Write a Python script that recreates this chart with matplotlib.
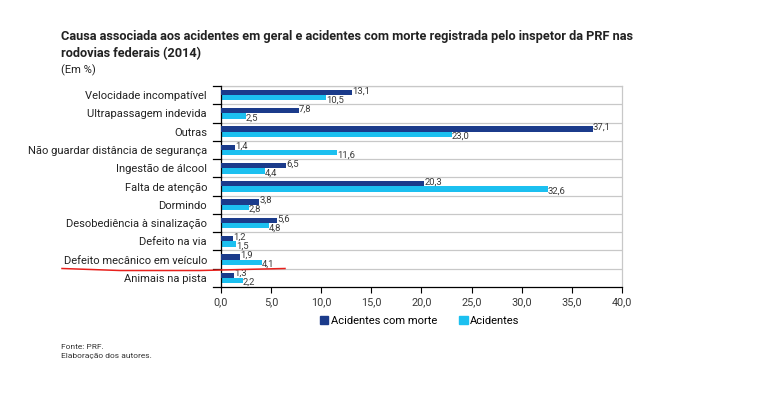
import matplotlib.pyplot as plt
import numpy as np
from matplotlib.lines import Line2D

causas = ["Velocidade incompatível", "Ultrapassagem indevida", "Outras",
          "Não guardar distância de segurança", "Ingestão de álcool",
          "Falta de atenção", "Dormindo", "Desobediência à sinalização",
          "Defeito na via", "Defeito mecânico em veículo", "Animais na pista"]
com_morte = [13.1, 7.8, 37.1, 1.4, 6.5, 20.3, 3.8, 5.6, 1.2, 1.9, 1.3]
acidentes = [10.5, 2.5, 23.0, 11.6, 4.4, 32.6, 2.8, 4.8, 1.5, 4.1, 2.2]
xticks = [0, 5, 10, 15, 20, 25, 30, 35, 40]

cor_escura = "#1b3b8b"
cor_clara = "#1cc0f0"
cor_texto = "#3a3a3a"

plt.rcParams["font.family"] = ["Roboto", "DejaVu Sans"]

fig = plt.figure(figsize=(7.77, 3.95), dpi=100)
ax = fig.add_axes([0.2844, 0.2734, 0.5161, 0.5089])

y = np.arange(len(causas))
h = 0.29
ax.barh(y - 0.145, com_morte, height=h, color=cor_escura, zorder=3)
ax.barh(y + 0.145, acidentes, height=h, color=cor_clara, zorder=2)

def fmt(v):
    return f"{v:.1f}".replace(".", ",")

for yi, v in zip(y, com_morte):
    ax.text(v, yi - 0.23, fmt(v), fontsize=6.8, color=cor_texto, va="center", ha="left", zorder=4)
for yi, v in zip(y, acidentes):
    ax.text(v, yi + 0.26, fmt(v), fontsize=6.8, color=cor_texto, va="center", ha="left", zorder=4)

ax.set_ylim(len(causas) - 0.5, -0.5)
ax.set_xlim(0, 40)
ax.set_xticks(xticks)
ax.set_xticklabels([fmt(t) for t in xticks], fontsize=7.8, color=cor_texto)
ax.set_yticks(y)
ax.set_yticklabels(causas, fontsize=8, color="#222222")
ax.tick_params(axis="y", length=0, pad=10)
ax.tick_params(axis="x", length=4, width=0.8, color="black")

# linhas de grade entre categorias
bordas = np.arange(len(causas) + 1) - 0.5
for b in bordas[:-1]:
    ax.axhline(b, color="#c8c8c8", lw=0.9, zorder=1)
for b in bordas:
    ax.plot([-0.8, 0], [b, b], color="black", lw=0.9, clip_on=False, zorder=5)

ax.spines["left"].set_color("black")
ax.spines["bottom"].set_color("black")
ax.spines["top"].set_color("#c8c8c8")
ax.spines["right"].set_color("#c8c8c8")
for s in ax.spines.values():
    s.set_linewidth(0.9)

handles = [plt.Rectangle((0, 0), 1, 1, color=cor_escura),
           plt.Rectangle((0, 0), 1, 1, color=cor_clara)]
fig.legend(handles, ["Acidentes com morte", "Acidentes"], loc="center",
           bbox_to_anchor=(0.54, 0.188), ncol=2, frameon=False, fontsize=8,
           handlelength=0.8, handleheight=0.8, handletextpad=0.2, columnspacing=2.0)

fig.text(0.079, 0.886, "Causa associada aos acidentes em geral e acidentes com morte registrada pelo inspetor da PRF nas\nrodovias federais (2014)",
         fontsize=9.2, fontweight="bold", color="#222222", va="center", ha="left",
         linespacing=1.3)
fig.text(0.079, 0.822, "(Em %)", fontsize=8, color="#222222", va="center")
fig.text(0.079, 0.110, "Fonte: PRF.\nElaboração dos autores.", fontsize=6, color="#333333",
         va="center", linespacing=1.5)

# sublinhado vermelho feito à mão
xs = np.array([62, 120, 200, 285]) / 777
ys = 1 - np.array([268.5, 270.5, 270.5, 268.5]) / 395
fig.add_artist(Line2D(xs, ys, color="#e8201c", lw=1.1))

fig.savefig("out.png", dpi=100)
